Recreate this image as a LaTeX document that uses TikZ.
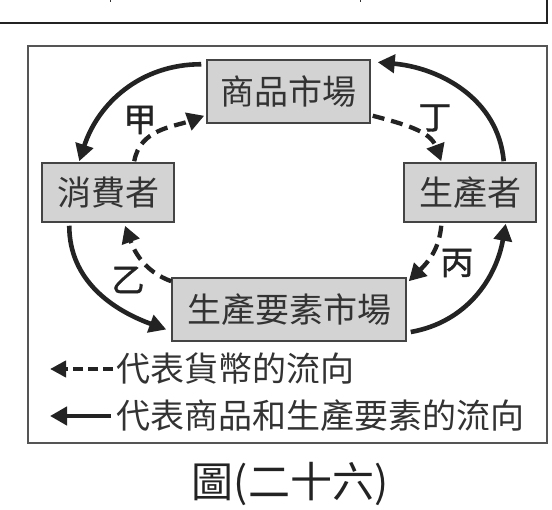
\documentclass[tikz,border=0pt]{standalone}
\usepackage{fontspec}
\newfontfamily\cjk{Noto Sans CJK TC}
\newfontfamily\cjkb[FakeBold=1.2]{Noto Sans CJK TC}
\usetikzlibrary{arrows.meta,calc}
\definecolor{ink}{HTML}{232323}
\definecolor{boxfill}{HTML}{D3D3D3}
\definecolor{textc}{HTML}{333333}
\definecolor{framec}{HTML}{555555}
\begin{document}
\begin{tikzpicture}[x=1pt,y=-1pt,
  box/.style={draw=ink!85,line width=1.5pt,fill=boxfill,inner sep=0pt,
    font=\cjk\fontsize{34}{40}\selectfont,text=textc},
  goods/.style={line width=4.6pt,draw=ink,-{Triangle[length=17pt,width=18pt]}},
  money/.style={line width=4.3pt,draw=ink,dash pattern=on 12pt off 7pt,
    -{Triangle[length=17pt,width=18pt]}},
  lab/.style={font=\cjkb\fontsize{33}{36}\selectfont,text=ink,inner sep=0pt},
  leg/.style={font=\cjk\fontsize{34}{38}\selectfont,text=textc,inner sep=0pt,anchor=west}]
\useasboundingbox (0,0) rectangle (552,510);
% remains of the previous box
\draw[line width=2.5pt,ink] (0,23) -- (547,23) -- (547,-2);
\draw[line width=1pt,textc] (110,0) -- (110,2);
\draw[line width=1pt,textc] (360,0) -- (360,2);
% frame
\draw[line width=1.5pt,framec] (28,46) rectangle (547,443);
% boxes
\node[box,minimum width=163pt,minimum height=63pt] (sm) at (288.5,91.5) {商品市場};
\node[box,minimum width=132pt,minimum height=59pt] (cs) at (108,192.5) {消費者};
\node[box,minimum width=132pt,minimum height=59pt] (pd) at (470,192.5) {生產者};
\node[box,minimum width=234pt,minimum height=63pt] (fm) at (289,309.5) {生產要素市場};
% goods flow
\draw[goods] ($(sm.north west)+(-5,5)$) to[out=180,in=72] ($(cs.north west)+(38,-1)$);
\draw[goods] ($(cs.south west)+(28,3)$) to[out=-90,in=160] ($(fm.west)+(-5,20)$);
\draw[goods] ($(fm.east)+(4,22.5)$) to[out=10,in=-100] ($(pd.south east)+(-31,1)$);
\draw[goods] ($(pd.north east)+(-33,-1)$) to[out=95,in=-5] ($(sm.north east)+(7,3)$);
% money flow
\draw[money] ($(cs.north west)+(93,-1)$) to[out=80,in=200] ($(sm.south west)+(-2,-8)$);
\draw[money] ($(sm.south east)+(2,-8)$) to[out=-15,in=110] ($(pd.north west)+(38,-1)$);
\draw[money] ($(pd.south west)+(38,3)$) to[out=-95,in=45] ($(fm.north east)+(2,4)$);
\draw[money] ($(fm.north west)+(0,4)$) to[out=160,in=-70] ($(cs.south)+(17,3)$);
% labels
\node[lab] (ja) at (140,120) {甲};
\node[lab] (di) at (435,118) {丁};
\node[lab] (bi) at (457,263) {丙};
\node[lab] (yi) at (128,280) {乙};
% legend
\node[leg] (l1) at (116,369) {代表貨幣的流向};
\node[leg] (l2) at (116,416) {代表商品和生產要素的流向};
\coordinate (t1) at (50,369);
\coordinate (t2) at (50,416);
\draw[line width=4pt,ink,dash pattern=on 10pt off 5pt,-{Triangle[length=16pt,width=16pt]}] ($(l1.west)+(-3,0)$) -- (t1);
\draw[line width=4.5pt,ink,-{Triangle[length=17pt,width=18pt]}] ($(l2.west)+(-5,0)$) -- (t2);
% caption
\node[font=\cjk\fontsize{42}{46}\selectfont,text=ink,inner sep=0pt] (cap) at (290,484) {圖(二十六)};
\end{tikzpicture}
\end{document}
